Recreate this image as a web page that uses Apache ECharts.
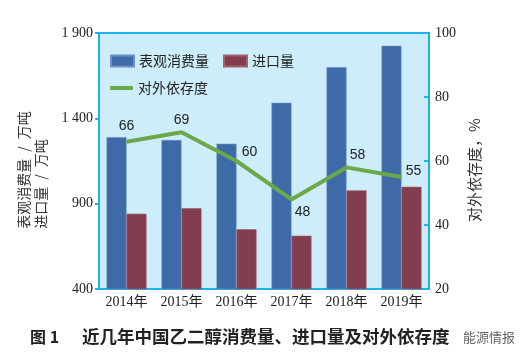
<!DOCTYPE html>
<html><head><meta charset="utf-8">
<script src="https://cdn.jsdelivr.net/npm/echarts@6/dist/echarts.min.js"></script>
<style>html,body{margin:0;padding:0;background:#fff}#c{width:531px;height:359px}</style>
</head><body><div id="c"></div>
<script>
const categories = ['2014年','2015年','2016年','2017年','2018年','2019年'];
const consumption = [1290, 1273, 1251, 1491, 1700, 1825];
const imports = [841, 873, 750, 712, 978, 999];
const dependence = [66, 69, 60, 48, 58, 55];
const leftTicks = [400, 900, 1400, 1900];
const rightTicks = [20, 40, 60, 80, 100];

const labelOffsets = [[0,-3],[0,0],[13,4],[11,0],[11,0],[12,7]];
const lineData = dependence.map((v,i)=>({value:v,label:{offset:labelOffsets[i], position: i===3?'bottom':'top'}}));

const cyan = '#1cb2ea';
const chart = echarts.init(document.getElementById('c'));
chart.setOption({
  animation:false,
  grid:{left:99, top:33, right:102, bottom:70, show:true, backgroundColor:'#ccedf9', borderColor:cyan, borderWidth:2},
  legend:[
    {data:['表观消费量','进口量'], left:105, top:49, itemWidth:23, itemHeight:11, itemGap:14, icon:'rect',
     textStyle:{fontFamily:'Noto Sans CJK SC', fontSize:14, color:'#222'}},
    {data:['对外依存度'], left:105, top:76, itemWidth:23, itemHeight:4, icon:'rect',
     textStyle:{fontFamily:'Noto Sans CJK SC', fontSize:14, color:'#222'}}
  ],
  xAxis:{type:'category', data:categories,
    axisLine:{lineStyle:{color:cyan, width:2}}, axisTick:{show:false},
    axisLabel:{margin:6, fontSize:14, color:'#222', fontFamily:'Liberation Serif, Noto Sans CJK SC'}},
  yAxis:[
    {type:'value', min:leftTicks[0], max:leftTicks[leftTicks.length-1], interval:500,
     name:'表观消费量\u2002/\u2002万吨\n进口量\u2002/\u2002万吨\u3000\u3000', nameLocation:'middle', nameGap:50, nameRotate:90,
     nameTextStyle:{fontFamily:'Noto Sans CJK SC', fontSize:14, color:'#333', lineHeight:17, padding:[0,18,0,0]},
     axisLine:{show:true, lineStyle:{color:cyan, width:2}},
     axisTick:{show:true, length:4, lineStyle:{color:cyan, width:2}},
     splitLine:{show:false},
     axisLabel:{margin:6, fontSize:14, color:'#222', fontFamily:'Liberation Serif',
       formatter:v=> v>=1000 ? String(v).replace(/^(\d)(\d{3})$/,'$1 $2') : String(v)}},
    {type:'value', min:rightTicks[0], max:rightTicks[rightTicks.length-1], interval:20,
     name:'对外依存度，%', nameLocation:'middle', nameGap:38, nameRotate:90,
     nameTextStyle:{fontFamily:'Noto Sans CJK SC', fontSize:15, color:'#333', padding:[0,18,0,0]},
     axisLine:{show:true, lineStyle:{color:cyan, width:2}},
     axisTick:{show:true, inside:true, length:5, lineStyle:{color:cyan, width:2}},
     splitLine:{show:false},
     axisLabel:{margin:6, fontSize:14, color:'#222', fontFamily:'Liberation Serif'}}
  ],
  series:[
    {name:'表观消费量', type:'bar', data:consumption, barWidth:20, barGap:'0%',
     itemStyle:{color:'#3f6aa8', borderColor:'#6d90c4', borderWidth:0.6}},
    {name:'进口量', type:'bar', data:imports, barWidth:20,
     itemStyle:{color:'#843c4f', borderColor:'#a06070', borderWidth:0.6}},
    {name:'对外依存度', type:'line', yAxisIndex:1, data:lineData, symbol:'circle', symbolSize:1, showSymbol:true,
     lineStyle:{color:'#6aa84a', width:4}, itemStyle:{color:'#6aa84a'},
     label:{show:true, fontSize:14, color:'#222', fontFamily:'Liberation Sans'}}
  ],
  graphic:[
    {type:'text', left:30, top:329, style:{text:'图 1', font:'bold 16px "Noto Sans CJK SC"', fill:'#222'}},
    {type:'text', left:82, top:328, style:{text:'近几年中国乙二醇消费量、进口量及对外依存度', font:'bold 17.5px "Noto Sans CJK SC"', fill:'#222'}},
    {type:'text', left:462, top:330, style:{text:'能源情报', font:'13px "Noto Sans CJK SC"', fill:'#666', stroke:'#fff', lineWidth:2}}
  ]
});
</script></body></html>
